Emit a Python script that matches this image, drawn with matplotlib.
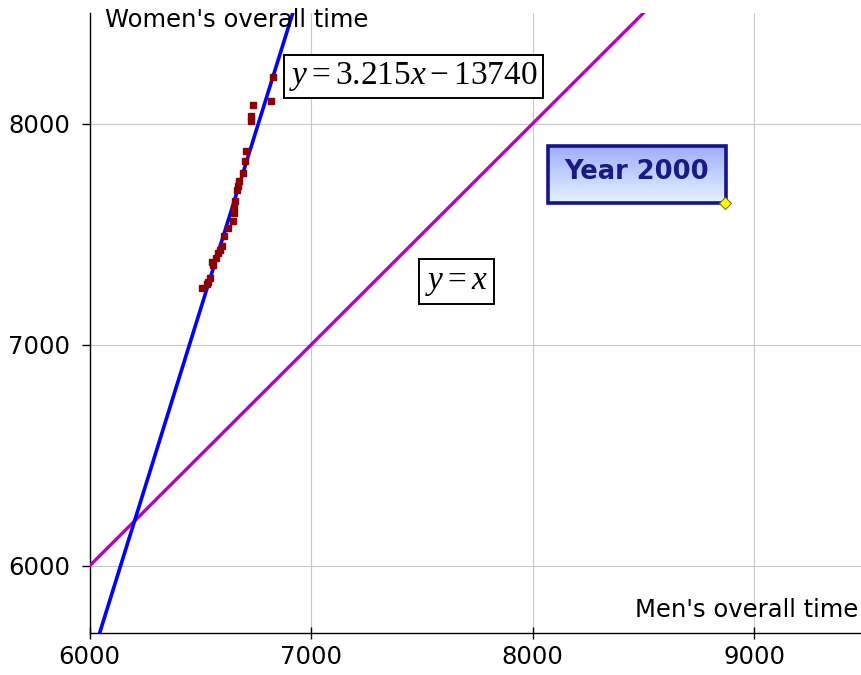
import numpy as np
import matplotlib
matplotlib.use("Agg")
import matplotlib.pyplot as plt
from matplotlib.patches import Rectangle

plt.rcParams['font.family'] = ['DejaVu Sans']
plt.rcParams['mathtext.fontset'] = 'custom'
plt.rcParams['mathtext.rm'] = 'Liberation Serif'
plt.rcParams['mathtext.it'] = 'Liberation Serif:italic'

# men's vs women's overall times (seconds)
men_time = [6827, 6819, 6739, 6727, 6727, 6705, 6702, 6691, 6675, 6671,
            6667, 6657, 6653, 6650, 6646, 6624, 6608, 6599, 6589, 6579,
            6570, 6559, 6555, 6544, 6529, 6506, 6535]
women_time = [8209, 8104, 8083, 8033, 8010, 7875, 7829, 7777, 7739, 7719,
              7701, 7648, 7619, 7597, 7558, 7528, 7490, 7445, 7430, 7415,
              7392, 7362, 7376, 7302, 7276, 7257, 7285]

# fitted line y = slope*x + intercept
slope = 3.215
intercept = -13740

x_ticks = [6000, 7000, 8000, 9000]
y_ticks = [6000, 7000, 8000]

fig = plt.figure(figsize=(8.62, 6.75), dpi=100)
ax = fig.add_axes([89.5 / 862, 42 / 675, 775.5 / 862, 620 / 675])

ax.set_xlim(6000, 9500)
ax.set_ylim(5697, 8500)

ax.grid(True, color='#c8c8c8', linewidth=0.8)
ax.set_axisbelow(True)

# y = x
xx = np.array([5990, 8520])
ax.plot(xx, xx, color='#bb00bb', linewidth=2.4, zorder=3)

# regression line
xf = np.array([5990, 6940])
ax.plot(xf, slope * xf + intercept, color='#0000ff', linewidth=2.6, zorder=4)

ax.plot(men_time, women_time, linestyle='none', marker='s', markersize=4.6,
        color='#8b0000', zorder=5)

ax.text(7462, 8213, r'$y = 3.215x - 13740$', fontsize=24, ha='center', va='center',
        bbox=dict(boxstyle='square,pad=0.16', facecolor='white', edgecolor='black', linewidth=1.4),
        zorder=6)
ax.text(7656, 7285, r'$y = x$', fontsize=24, ha='center', va='center',
        bbox=dict(boxstyle='square,pad=0.18', facecolor='white', edgecolor='black', linewidth=1.4),
        zorder=6)

# "Year 2000" callout with gradient fill
bx0, bx1, by0, by1 = 8069, 8872, 7643, 7900
grad = np.linspace(0, 1, 50)[:, None]
top = np.array([0.62, 0.68, 0.98])
bot = np.array([0.90, 0.95, 1.0])
img = (top[None, None, :] * (1 - grad[:, :, None]) + bot[None, None, :] * grad[:, :, None])
ax.imshow(img, extent=[bx0, bx1, by0, by1], aspect='auto', origin='upper', zorder=6)
ax.add_patch(Rectangle((bx0, by0), bx1 - bx0, by1 - by0, fill=False,
                       edgecolor='#14148c', linewidth=2.6, zorder=7))
ax.text((bx0 + bx1) / 2, (by0 + by1) / 2 + 8, 'Year 2000', fontsize=18.5, fontweight='bold',
        color='#1a1a80', ha='center', va='center', zorder=8)
ax.plot([bx1 - 6], [by0], marker='D', markersize=6, markerfacecolor='#ffff00',
        markeredgecolor='#807000', markeredgewidth=0.8, zorder=9)
ax.set_xlim(6000, 9500)
ax.set_ylim(5697, 8500)

ax.set_xticks(x_ticks)
ax.set_yticks(y_ticks)
ax.tick_params(axis='x', direction='inout', length=9, width=1, labelsize=17.5, pad=4)
ax.tick_params(axis='y', direction='out', length=6, width=1, labelsize=17.5, pad=8)

for side in ['top', 'right']:
    ax.spines[side].set_visible(False)
ax.spines['left'].set_linewidth(1)
ax.spines['bottom'].set_linewidth(1)

fig.text(105 / 862, 1 - 27 / 675, "Women's overall time", fontsize=17.5, va='baseline', ha='left')
fig.text(858 / 862, 1 - 617 / 675, "Men's overall time", fontsize=17.5, va='baseline', ha='right')

fig.savefig('out.png', dpi=100)
